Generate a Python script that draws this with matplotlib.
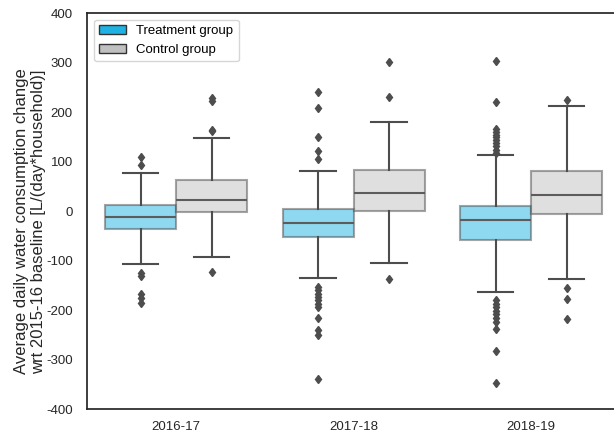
import matplotlib
matplotlib.use("Agg")
import matplotlib.pyplot as plt
from matplotlib.patches import Patch

plt.rcParams['font.family'] = ['Liberation Sans', 'DejaVu Sans']
plt.rcParams['axes.unicode_minus'] = False

years = ["2016-17", "2017-18", "2018-19"]
groups = ["Treatment group", "Control group"]
colors = ["#1fb2e3", "#c0c0c0"]

# [year][group]
q1 = [[-36, -1], [-53, 0], [-59, -5]]
median = [[-11, 22], [-24, 36], [-17, 32]]
q3 = [[12, 63], [5, 84], [11, 81]]
whislo = [[-106, -93], [-136, -105], [-163, -137]]
whishi = [[78, 148], [81, 181], [114, 213]]
fliers = [
    [[109, 93, -126, -131, -167, -176, -186],
     [161, 164, 222, 229, -123]],
    [[240, 208, 149, 121, 105, -153, -160, -167, -173, -180, -187, -194, -217, -241, -251, -339],
     [302, 231, -138]],
    [[304, 221, 167, 160, 154, 150, 144, 137, 131, 124, 118, -180, -187, -194, -201, -207, -216, -224, -238, -283, -348],
     [225, -155, -177, -219]],
]

fig = plt.figure(figsize=(6.14, 4.33), dpi=100)
ax = fig.add_axes([0.1425, 0.0554, 0.867, 0.914])

dark = "#4d4d4d"
for g in range(2):
    stats = []
    pos = []
    for i in range(3):
        stats.append(dict(med=median[i][g], q1=q1[i][g], q3=q3[i][g],
                          whislo=whislo[i][g], whishi=whishi[i][g],
                          fliers=fliers[i][g]))
        pos.append(i - 0.2 + 0.4 * g)
    ax.bxp(stats, positions=pos, widths=0.4, patch_artist=True,
           boxprops=dict(facecolor=colors[g], edgecolor=dark, alpha=0.5, linewidth=1.5),
           whiskerprops=dict(color=dark, linewidth=1.5),
           capprops=dict(color=dark, linewidth=1.5),
           medianprops=dict(color="#5c5c5c", linewidth=1.5),
           flierprops=dict(marker='d', markerfacecolor=dark, markeredgecolor=dark,
                           markersize=4.5, linestyle='none'),
           manage_ticks=False)

ax.set_xlim(-0.5, 2.5)
ax.set_ylim(-400, 400)
ax.set_xticks(range(3))
ax.set_xticklabels(years)
ax.set_yticks(range(-400, 401, 100))
ax.tick_params(axis='both', length=0, labelsize=9.5, colors="#262626")
ax.tick_params(axis='y', pad=10.5)
ax.tick_params(axis='x', pad=8.5)
ax.set_ylabel("Average daily water consumption change\nwrt 2015-16 baseline [L/(day*household)]",
              fontsize=12, color="#262626", multialignment='left')
ax.yaxis.set_label_coords(-0.078, 0.475)
for s in ax.spines.values():
    s.set_color("#262626")
    s.set_linewidth(1.25)

handles = [Patch(facecolor=colors[0], edgecolor="#333333", label=groups[0]),
           Patch(facecolor=colors[1], edgecolor="#333333", label=groups[1])]
ax.legend(handles=handles, loc="upper left", fontsize=9.5, frameon=True,
          edgecolor="#cccccc", fancybox=True, borderpad=0.4,
          bbox_to_anchor=(0.0, 1.0))

fig.savefig("out.png", dpi=100)
